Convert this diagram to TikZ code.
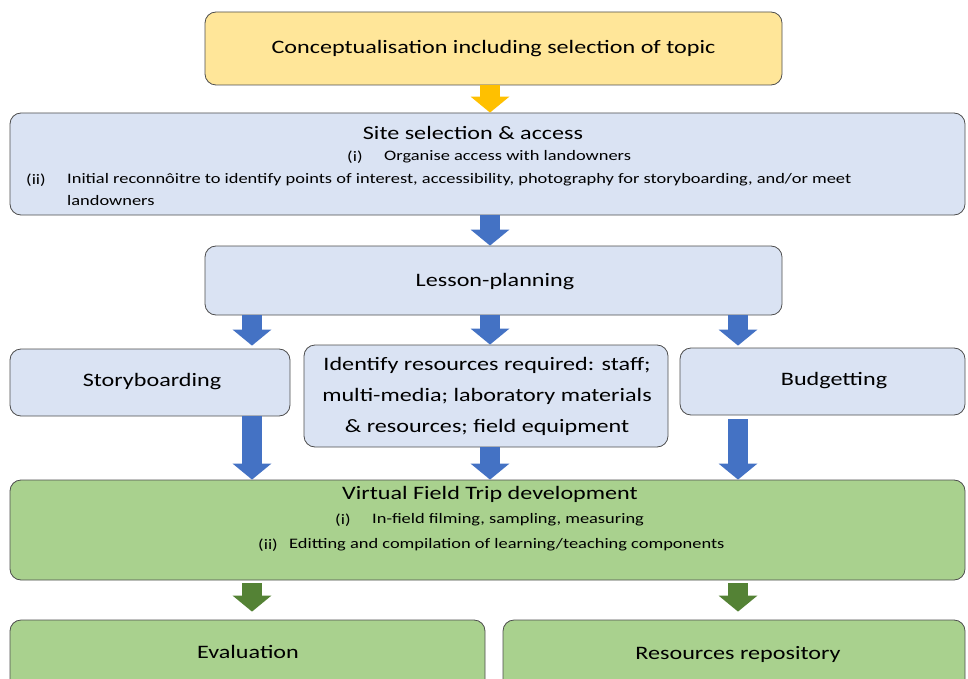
\documentclass[tikz,border=0pt]{standalone}
\usepackage{fontspec}
\setmainfont[FakeStretch = 1.27]{Carlito}
\usetikzlibrary{arrows.meta}
\usetikzlibrary{positioning}
\tikzset{box/.style = {draw = boxline, line width = 0.8, rounded corners = 11, inner sep = 0}}
\tikzset{barrow/.style = {line width = 20, -{Triangle[width = 38, length = 16]}}}
\tikzset{big/.style = {font = \fontsize{19}{22}\selectfont, inner sep = 0}}
\tikzset{small/.style = {font = \fontsize{14.5}{17}\selectfont, inner sep = 0, anchor = west}}
\definecolor{boxline}{HTML}{4D4D4D}
\definecolor{myellow}{HTML}{FFE699}
\definecolor{morange}{HTML}{FFC000}
\definecolor{mblue}{HTML}{DAE3F3}
\definecolor{mbluearrow}{HTML}{4472C4}
\definecolor{mgreen}{HTML}{A9D18E}
\definecolor{mgreenarrow}{HTML}{548235}

\begin{document}
\begin{tikzpicture}[x = 1pt, y = -1pt]
      \useasboundingbox (0, 0) rectangle (968, 679);
      \clip (0, 0) rectangle (968, 679);
      % arrow columns
      \coordinate (lcol) at (252, 0);
      \coordinate (mcol) at (490, 0);
      \coordinate (rcol) at (738, 0);

      \node [box, fill = myellow, minimum width = 577, minimum height = 73, big] (concept) at (493.5, 48.5)
        {Conceptualisation including selection of topic};

      \node [box, fill = mblue, minimum width = 955, minimum height = 102] (site) at (487.5, 164) {};
      \node [big] (sitetitle) at (473, 133) {Site selection \& access};
      \node [small] (sitei) at (347, 157) {(i)};
      \node [small] (siteitext) at (384, 157) {Organise access with landowners};
      \node [small] (siteii) at (26, 180) {(ii)};
      \node [small] (siteiitext) at (67, 180) {Initial reconnôitre to identify points of interest, accessibility, photography for storyboarding, and/or meet};
      \node [small] (siteiitextb) at (67, 201) {landowners};

      \node [box, fill = mblue, minimum width = 577, minimum height = 69, big] (lesson) at (493.5, 280.5) {};
      \node [big] (lessontext) at (495, 282) {Lesson-planning};

      \node [box, fill = mblue, minimum width = 280, minimum height = 67] (story) at (150, 382.5) {};
      \node [big] (storytext) at (152, 382) {Storyboarding};
      \node [box, fill = mblue, minimum width = 364, minimum height = 102] (resources) at (486, 396) {};
      \node [big, align = center, font = \fontsize{19}{31}\selectfont] (resourcestext) at (487, 396)
        {Identify resources required: staff;\\ multi-media; laboratory materials\\ \& resources; field equipment};
      \node [box, fill = mblue, minimum width = 285, minimum height = 67] (budget) at (822.5, 381.5) {};
      \node [big] (budgettext) at (834, 381) {Budgetting};

      \node [box, fill = mgreen, minimum width = 955, minimum height = 100] (vft) at (487.5, 530) {};
      \node [big] (vfttitle) at (490, 494) {Virtual Field Trip development};
      \node [small] (vfti) at (335, 520) {(i)};
      \node [small] (vftitext) at (372, 520) {In-field filming, sampling, measuring};
      \node [small] (vftii) at (258, 545) {(ii)};
      \node [small] (vftiitext) at (289, 545) {Editting and compilation of learning/teaching components};

      \node [box, fill = mgreen, minimum width = 475, minimum height = 80] (eval) at (247.5, 660) {};
      \node [big] (evaltext) at (248, 652) {Evaluation};
      \node [box, fill = mgreen, minimum width = 462, minimum height = 80] (repo) at (734, 660) {};
      \node [big] (repotext) at (738, 654) {Resources repository};

      % block arrows
      \draw [barrow, morange] (concept.south -| mcol) -- (site.north -| mcol);
      \draw [barrow, mbluearrow] (site.south -| mcol) -- (lesson.north -| mcol);
      \draw [barrow, mbluearrow, shorten > = 3] (lesson.south -| lcol) -- (story.north -| lcol);
      \draw [barrow, mbluearrow] (lesson.south -| mcol) -- (resources.north -| mcol);
      \draw [barrow, mbluearrow, shorten > = 2] (lesson.south -| rcol) -- (budget.north -| rcol);
      \draw [barrow, mbluearrow] (story.south -| lcol) -- (vft.north -| lcol);
      \draw [barrow, mbluearrow] (resources.south -| mcol) -- (vft.north -| mcol);
      \draw [barrow, mbluearrow, shorten < = 4] (budget.south -| rcol) -- (vft.north -| rcol);
      \draw [barrow, mgreenarrow, shorten < = 3, shorten > = 8] (vft.south -| lcol) -- (eval.north -| lcol);
      \draw [barrow, mgreenarrow, shorten < = 3, shorten > = 8] (vft.south -| rcol) -- (repo.north -| rcol);

    \end{tikzpicture}
\end{document}
